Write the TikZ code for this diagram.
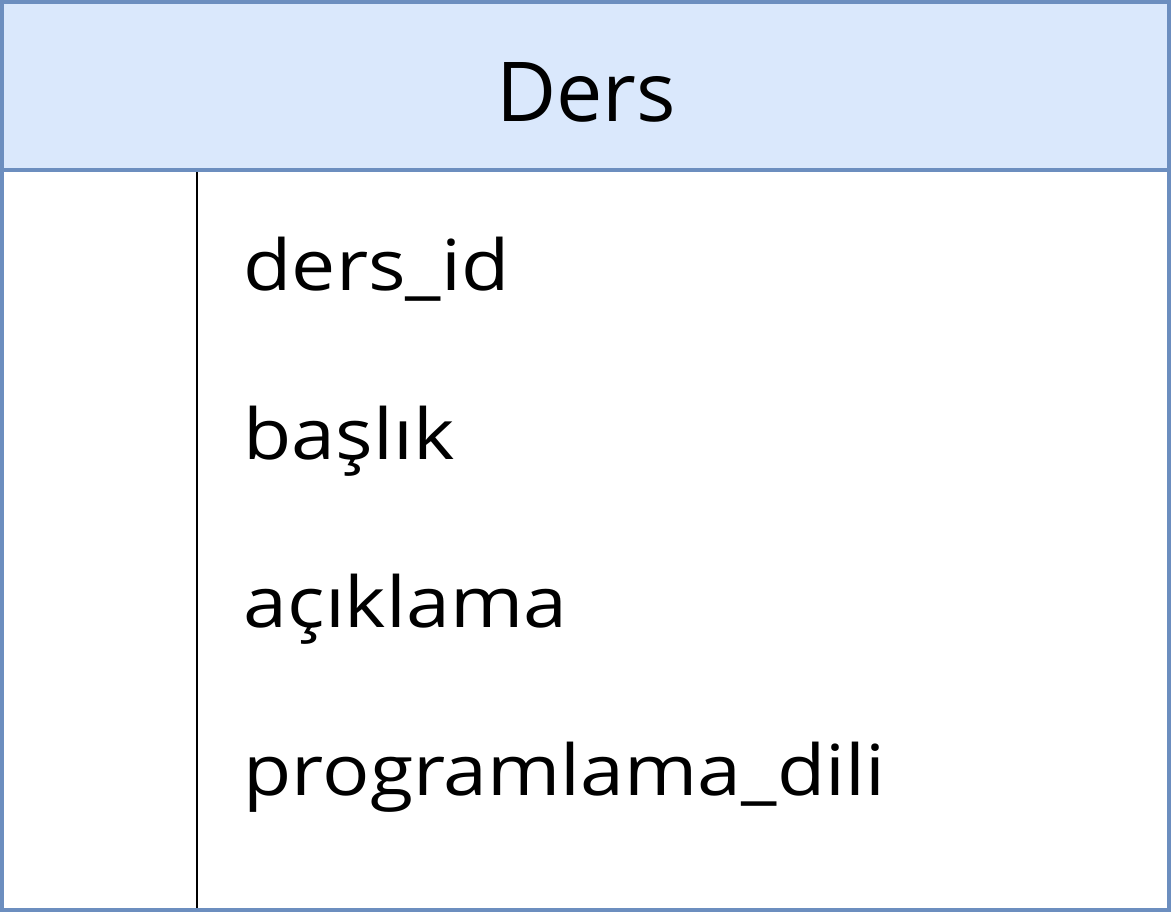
\documentclass[tikz,border=0pt]{standalone}
\usepackage{fontspec}
\setmainfont{Open Sans}
\newfontfamily\attrfont[FakeStretch=1.12]{Open Sans}
\definecolor{erblue}{HTML}{6C8EBF}
\definecolor{erfill}{HTML}{DAE8FC}
\tikzset{attr/.style={anchor=base west, inner sep=0pt, font=\attrfont\fontsize{20}{22}\selectfont}}
\tikzset{frame/.style={line width=1pt, draw=erblue}}
\begin{document}
\begin{tikzpicture}[x=0.01cm, y=-0.01cm]
        \useasboundingbox (0,0) rectangle (1171,912);
        \fill[white] (0,0) rectangle (1171,912);
        \draw[frame, fill=erfill] (2,2) rectangle (1169,170);
        \draw[frame] (2,170) rectangle (1169,910);
        \node[inner sep=0pt, font=\fontsize{23.5}{26}\selectfont] (title) at (586,92) {Ders};

        \coordinate (Dtop) at (197,172);
        \coordinate (Dbot) at (197,908);
        \draw[line width=0.6pt, black] (Dtop) -- (Dbot);

        \node[attr] (A1) at (243,290) {ders\_id};
        \node[attr] (A2) at (243,459) {başlık};
        \node[attr] (A3) at (243,627) {açıklama};
        \node[attr] (A4) at (243,795) {programlama\_dili};

    \end{tikzpicture}
\end{document}
